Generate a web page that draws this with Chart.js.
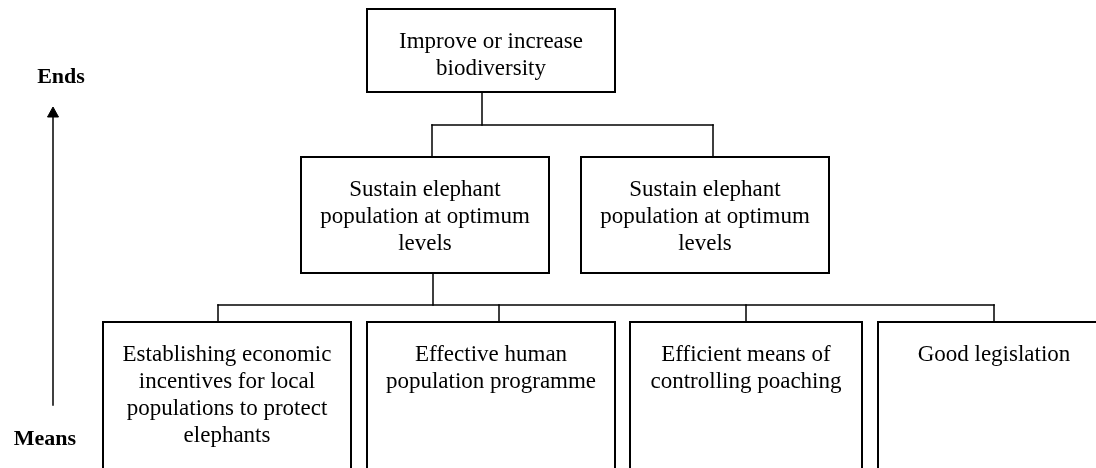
<!DOCTYPE html>
<html>
<head>
  <title>Means-ends diagram</title>
  <script src="https://cdn.jsdelivr.net/npm/chart.js"></script>
  <style>
    body {
      margin: 0;
      background: #ffffff;
    }
    canvas {
      display: block;
    }
  </style>
</head>
<body>
  <canvas id="diagram" width="1096" height="468"></canvas>

  <script>
    // Node texts, one entry per box, already split into lines
    const nodeLabels = [
      ['Improve or increase', 'biodiversity'],
      ['Sustain elephant', 'population at optimum', 'levels'],
      ['Sustain elephant', 'population at optimum', 'levels'],
      ['Establishing economic', 'incentives for local', 'populations to protect', 'elephants'],
      ['Effective human', 'population programme'],
      ['Efficient means of', 'controlling poaching'],
      ['Good legislation']
    ];
    const nodeParent = [-1, 0, 0, 1, 1, 1, 1];

    // Box extents in diagram units (bottom row runs off the page)
    const nodeLeft   = [367, 301, 581, 103, 367, 630, 878];
    const nodeRight  = [615, 549, 829, 351, 615, 862, 1110];
    const nodeTop    = [9, 157, 157, 322, 322, 322, 322];
    const nodeBottom = [92, 273, 273, 480, 480, 480, 480];

    // Where connectors leave / enter each box, and the bus line under each parent
    const nodeOutX = [482, 433, null, null, null, null, null];
    const nodeInX  = [null, 432, 713, 218, 499, 746, 994];
    const busY     = { 0: 125, 1: 305 };

    // Ends / Means axis
    const axisX = 53;
    const axisBottom = 405;
    const axisHeadBase = 117;
    const axisHeadTip = 107;
    const axisLabels = ['Ends', 'Means'];
    const axisLabelX = [61, 45];
    const axisLabelY = [83, 445];

    const black = '#000000';

    function seg(points, width) {
      return {
        data: points,
        showLine: true,
        borderColor: black,
        borderWidth: width,
        pointRadius: 0,
        fill: false,
        tension: 0,
        borderJoinStyle: 'miter',
        borderCapStyle: 'square'
      };
    }

    const datasets = [];

    // boxes
    nodeLabels.forEach((_, i) => {
      const l = nodeLeft[i], r = nodeRight[i], t = nodeTop[i], b = nodeBottom[i];
      datasets.push(seg([
        { x: l, y: t }, { x: r, y: t }, { x: r, y: b }, { x: l, y: b }, { x: l, y: t }
      ], 2));
    });

    // connectors
    nodeOutX.forEach((ox, p) => {
      if (ox === null) return;
      const kids = nodeParent.map((q, i) => q === p ? i : -1).filter(i => i >= 0);
      if (!kids.length) return;
      const by = busY[p];
      datasets.push(seg([{ x: ox, y: nodeBottom[p] }, { x: ox, y: by }], 1.5));
      const xs = kids.map(k => nodeInX[k]).concat([ox]);
      datasets.push(seg([{ x: Math.min(...xs), y: by }, { x: Math.max(...xs), y: by }], 1.5));
      kids.forEach(k => {
        datasets.push(seg([{ x: nodeInX[k], y: by }, { x: nodeInX[k], y: nodeTop[k] }], 1.5));
      });
    });

    // arrow shaft and head
    datasets.push(seg([{ x: axisX, y: axisBottom }, { x: axisX, y: axisHeadBase }], 1.5));
    datasets.push({
      data: [
        { x: axisX - 5.5, y: axisHeadBase },
        { x: axisX, y: axisHeadTip },
        { x: axisX + 5.5, y: axisHeadBase },
        { x: axisX - 5.5, y: axisHeadBase }
      ],
      showLine: true,
      borderColor: black,
      borderWidth: 1,
      backgroundColor: black,
      pointRadius: 0,
      fill: 'shape',
      tension: 0
    });

    // text labels drawn through the scales
    const textPlugin = {
      id: 'boxText',
      afterDatasetsDraw(chart) {
        const ctx = chart.ctx;
        const xs = chart.scales.x;
        const ys = chart.scales.y;
        ctx.save();
        ctx.fillStyle = black;
        ctx.textAlign = 'center';
        ctx.textBaseline = 'alphabetic';
        ctx.font = "23px 'Liberation Serif', 'Times New Roman', serif";
        nodeLabels.forEach((lines, i) => {
          const right = Math.min(nodeRight[i], nodeLeft[i] + 248);
          const cx = xs.getPixelForValue((nodeLeft[i] + right) / 2);
          lines.forEach((line, j) => {
            ctx.fillText(line, cx, ys.getPixelForValue(nodeTop[i] + 39 + j * 27));
          });
        });
        ctx.font = "bold 22px 'Liberation Serif', 'Times New Roman', serif";
        axisLabels.forEach((t, i) => {
          ctx.fillText(t, xs.getPixelForValue(axisLabelX[i]), ys.getPixelForValue(axisLabelY[i]));
        });
        ctx.restore();
      }
    };

    new Chart(document.getElementById('diagram'), {
      type: 'scatter',
      data: { datasets: datasets },
      options: {
        responsive: false,
        animation: false,
        events: [],
        layout: { padding: 0 },
        plugins: {
          legend: { display: false },
          tooltip: { enabled: false }
        },
        scales: {
          x: { type: 'linear', min: 0, max: 1096, display: false },
          y: { type: 'linear', min: 0, max: 468, reverse: true, display: false }
        }
      },
      plugins: [textPlugin]
    });
  </script>
</body>
</html>
